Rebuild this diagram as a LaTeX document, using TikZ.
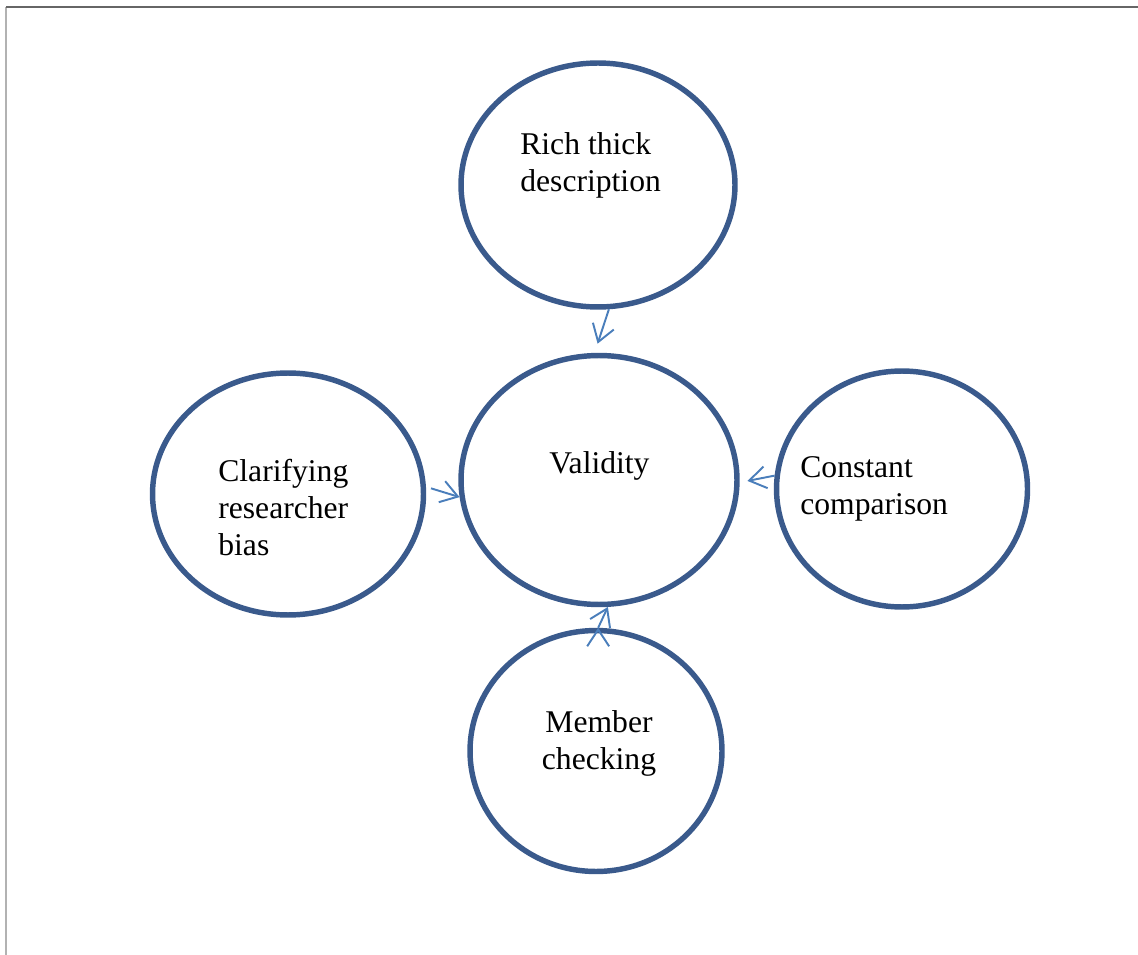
\documentclass[tikz,border=0pt]{standalone}
\usepackage{fontspec}
\setmainfont{Liberation Serif}
\usetikzlibrary{shapes.geometric,arrows.meta}
\definecolor{ringblue}{RGB}{58,90,140}
\definecolor{arrowblue}{RGB}{74,126,187}

\begin{document}
\begin{tikzpicture}[x=0.02cm,y=-0.02cm,
    ring/.style={ellipse,draw=ringblue,line width=3.1pt,inner sep=0pt},
    txt/.style={inner sep=0pt,anchor=north west,align=left,font=\fontsize{18}{21}\selectfont},
    link/.style={draw=arrowblue,line width=1.1pt,-{Straight Barb[length=9.5pt,width=12.5pt]}}]
  \useasboundingbox (0,0) rectangle (1138,955);
  \draw[gray!60,line width=1.2pt] (6,955) -- (6,7);
  \draw[black!60,line width=1.2pt] (6,7) -- (1138,7);

  \node[ring,minimum width=5.48cm,minimum height=4.88cm] (rich) at (598,185) {};
  \node[ring,minimum width=5.52cm,minimum height=4.98cm] (valid) at (599,480) {};
  \node[ring,minimum width=5.42cm,minimum height=4.84cm] (clarify) at (288,494) {};
  \node[ring,minimum width=5.02cm,minimum height=4.72cm] (constant) at (902,489) {};
  \node[ring,minimum width=5.04cm,minimum height=4.82cm] (member) at (596,751) {};

  \node[txt] (rich-t) at (520,132) {Rich thick\\description};
  \node[txt] (valid-t) at (549,451) {Validity};
  \node[txt] (clarify-t) at (218,459) {Clarifying\\researcher\\bias};
  \node[txt] (constant-t) at (800,456) {Constant\\comparison};
  \node[txt,anchor=north,align=center] (member-t) at (599,710) {Member\\checking};

  \path[link]
    (rich.-85) edge[shorten >=5.5pt] (valid.92)
    (clarify.3) edge[shorten <=3pt] (valid.187)
    (constant.174) edge[shorten >=4.5pt] (valid.-1)
    (member.89) edge (valid.-86);
\end{tikzpicture}
\end{document}
